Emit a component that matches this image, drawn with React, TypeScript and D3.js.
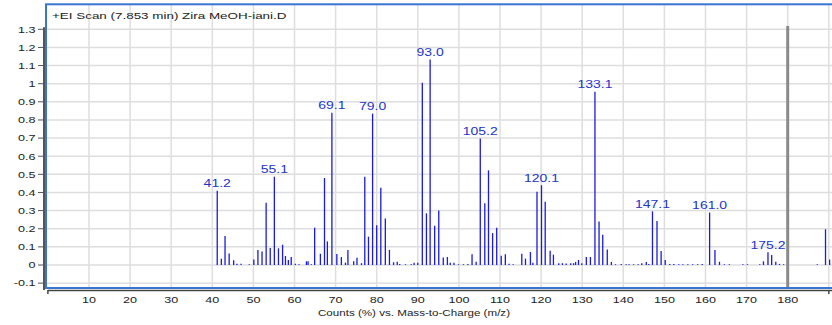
import * as d3 from "d3";
import * as React from "react";

// spectrum: m/z and relative counts (%)
const mz = [
  41.2, 42.2, 43.1, 44.1, 45.2, 46.0, 47.0, 49.0, 50.1, 51.1, 52.1, 53.1, 54.1, 55.1, 56.1, 57.1, 57.8, 58.5, 59.2,
  60.2, 61.1, 62.9, 63.3, 64.1, 64.9, 66.3, 67.3, 68.0, 69.1, 70.3, 71.4, 72.4, 73.0, 74.4, 75.2, 76.3, 77.1, 78.0,
  79.0, 80.0, 81.0, 82.1, 83.1, 84.1, 85.0, 85.6, 87.0, 88.4, 89.1, 90.0, 91.1, 92.1, 93.0, 94.1, 95.1, 96.2, 97.2,
  97.9, 98.8, 99.9, 101.1, 102.2, 103.2, 104.2, 105.2, 106.3, 107.2, 108.2, 109.2, 110.3, 111.3, 112.2, 113.2,
  115.3, 116.2, 117.4, 118.0, 119.0, 120.1, 121.0, 122.2, 123.0, 124.3, 125.2, 126.1, 127.2, 127.9, 128.4, 129.1,
  129.9, 131.0, 132.0, 133.1, 134.1, 135.0, 136.1, 137.1, 138.1, 139.5, 140.7, 141.4, 142.5, 143.6, 144.5, 145.6,
  146.2, 147.1, 148.2, 149.2, 150.2, 151.3, 152.3, 153.5, 154.5, 155.7, 156.9, 158.1, 159.2, 161.0, 162.3, 163.4,
  164.6, 165.8, 169.1, 170.2, 173.2, 174.1, 175.2, 176.1, 177.1, 178.0, 179.0, 187.2, 189.2, 190.2,
];
const counts = [
  0.41, 0.035, 0.16, 0.064, 0.026, 0.007, 0.007, 0.004, 0.03, 0.083, 0.074, 0.344, 0.094, 0.487, 0.092, 0.112, 0.05,
  0.028, 0.044, 0.007, 0.004, 0.02, 0.02, 0.004, 0.206, 0.062, 0.48, 0.13, 0.84, 0.06, 0.044, 0.013, 0.083, 0.02,
  0.04, 0.01, 0.487, 0.156, 0.835, 0.219, 0.426, 0.257, 0.083, 0.015, 0.018, 0.006, 0.004, 0.004, 0.013, 0.013,
  1.005, 0.285, 1.133, 0.217, 0.3, 0.042, 0.044, 0.013, 0.013, 0.004, 0.004, 0.006, 0.059, 0.018, 0.698, 0.34,
  0.522, 0.176, 0.206, 0.051, 0.059, 0.007, 0.004, 0.0625, 0.035, 0.072, 0.013, 0.404, 0.44, 0.349, 0.079, 0.057,
  0.01, 0.01, 0.008, 0.01, 0.01, 0.017, 0.028, 0.01, 0.044, 0.044, 0.955, 0.24, 0.167, 0.085, 0.017, 0.004, 0.006,
  0.004, 0.004, 0.004, 0.004, 0.01, 0.017, 0.005, 0.296, 0.243, 0.077, 0.028, 0.005, 0.005, 0.004, 0.004, 0.004,
  0.004, 0.004, 0.005, 0.289, 0.083, 0.018, 0.004, 0.004, 0.004, 0.004, 0.004, 0.02, 0.07, 0.055, 0.018, 0.006,
  0.004, 0.004, 0.197, 0.03,
];
const labelled = [41.2, 55.1, 69.1, 79.0, 93.0, 105.2, 120.1, 133.1, 147.1, 161.0, 175.2];

const xTicks = d3.range(10, 190, 10);
const xGrid = d3.range(10, 200, 10);
const yTicks = d3.range(-1, 14).map((i) => i / 10);
const markerMz = 180;
const title = "+EI Scan (7.853 min) Zira MeOH-iani.D";
const xTitle = "Counts (%) vs. Mass-to-Charge (m/z)";

const W = 832;
const H = 325;
const font = "'Liberation Sans', Arial, sans-serif";
const stretch = 1.4; // the picture's text is wide

const x = d3.scaleLinear().domain([0, 190]).range([47.9, 828.8]);
const y = d3.scaleLinear().domain([0, 1.3]).range([265, 29.3]);

function Txt(props: { x: number; y: number; size: number; anchor?: string; fill?: string; children: string }) {
  return (
    <text
      transform={`translate(${props.x},${props.y}) scale(${stretch},1)`}
      fontFamily={font}
      fontSize={props.size}
      textAnchor={props.anchor || "start"}
      fill={props.fill || "#222"}
    >
      {props.children}
    </text>
  );
}

export default function App() {
  const top = 4.3;
  const bottom = 288;
  const left = 46;
  const peaks = mz.map((m, i) => ({ m, v: counts[i] }));

  return (
    <svg width={W} height={H} style={{ position: "absolute", left: 0, top: 0, background: "#fff" }}>
      {/* grid */}
      <g stroke="#dedede" strokeWidth={1.5}>
        {yTicks.map((t) => (
          <line key={"h" + t} x1={left} x2={W} y1={y(t)} y2={y(t)} />
        ))}
        {xGrid.map((t) => (
          <line key={"v" + t} x1={x(t)} x2={x(t)} y1={top} y2={bottom} />
        ))}
      </g>

      {/* marker at 180 */}
      <line x1={x(markerMz)} x2={x(markerMz)} y1={26} y2={bottom} stroke="#8a8a8a" strokeWidth={3} />

      {/* peaks */}
      <g stroke="#1a1ae0" strokeWidth={1.3}>
        {peaks.map((p) => (
          <line key={p.m} x1={x(p.m)} x2={x(p.m)} y1={y(0)} y2={y(p.v)} />
        ))}
      </g>
      {peaks
        .filter((p) => labelled.includes(p.m))
        .map((p) => (
          <Txt key={"l" + p.m} x={x(p.m)} y={y(p.v) - 3.5} size={10} anchor="middle" fill="#2233cc">
            {p.m.toFixed(1)}
          </Txt>
        ))}

      {/* frame */}
      <rect x={left} y={top} width={W} height={bottom - top} fill="none" stroke="#3a75d4" strokeWidth={2} />

      {/* y axis */}
      <line x1={44} x2={44} y1={y(1.3) - 2} y2={bottom + 2} stroke="#555" strokeWidth={2} />
      {yTicks.map((t) => (
        <g key={"yt" + t}>
          <line x1={38} x2={44} y1={y(t)} y2={y(t)} stroke="#555" strokeWidth={1} />
          <Txt x={35.5} y={y(t) + 3.3} size={9} anchor="end">
            {String(+t.toFixed(1))}
          </Txt>
        </g>
      ))}

      {/* x axis */}
      <line x1={x(0)} x2={W} y1={290.5} y2={290.5} stroke="#444" strokeWidth={1.5} />
      <line x1={x(0)} x2={x(0)} y1={290} y2={294} stroke="#444" strokeWidth={1.5} />
      <line x1={x(190)} x2={x(190)} y1={290} y2={294} stroke="#444" strokeWidth={1.5} />
      {xTicks.map((t) => (
        <Txt key={"xt" + t} x={x(t)} y={302.5} size={9} anchor="middle">
          {String(t)}
        </Txt>
      ))}
      <Txt x={414} y={315.5} size={8.3} anchor="middle">
        {xTitle}
      </Txt>

      <Txt x={52} y={18.5} size={9.6}>
        {title}
      </Txt>
    </svg>
  );
}
